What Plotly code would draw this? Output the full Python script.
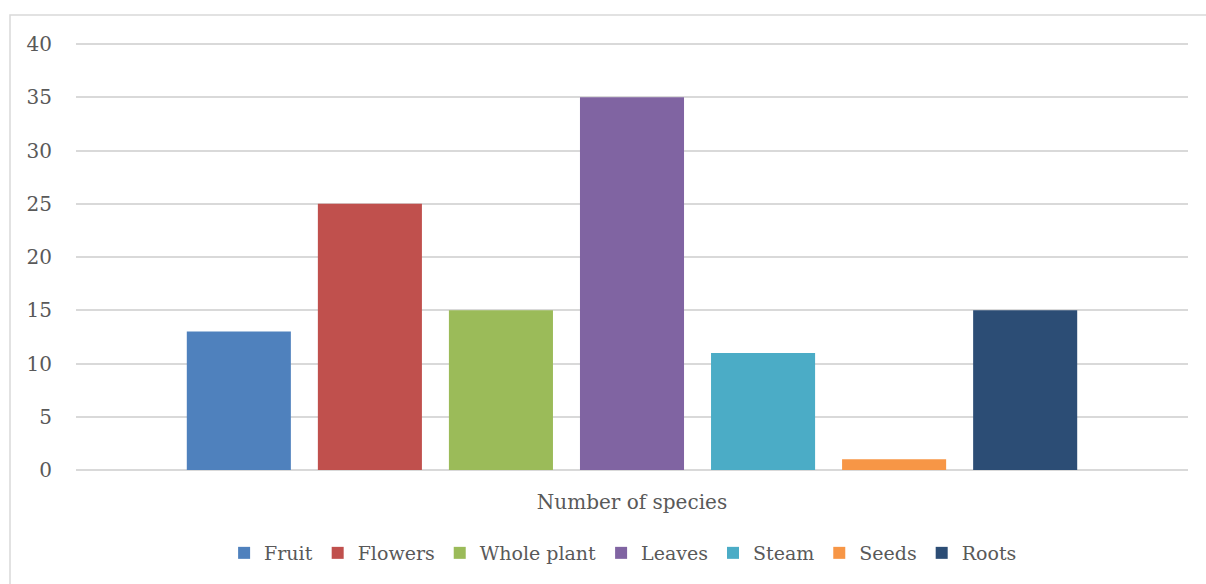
import plotly.graph_objects as go

category = ["Number of species"]
series_names = ["Fruit", "Flowers", "Whole plant", "Leaves", "Steam", "Seeds", "Roots"]
species_counts = [13, 25, 15, 35, 11, 1, 15]
series_colors = ["#4f81bd", "#c0504d", "#9bbb59", "#8064a2", "#4bacc6", "#f79646", "#2c4d75"]
y_ticks = [0, 5, 10, 15, 20, 25, 30, 35, 40]

W, H = 1206, 584
ML, MR, MT, MB = 76, 18, 42, 114
plot_w = W - ML - MR
plot_h = H - MT - MB

font_family = "DejaVu Serif, Liberation Serif, serif"
text_color = "#595959"
grid_color = "#d9d9d9"

fig = go.Figure()
for name, val, col in zip(series_names, species_counts, series_colors):
    fig.add_trace(go.Bar(x=category, y=[val], name=name, marker=dict(color=col, line=dict(width=0))))

# outer chart border
fig.add_shape(
    type="rect", xref="paper", yref="paper",
    x0=(10 - ML) / plot_w, x1=(W + 5 - ML) / plot_w,
    y0=-(H + 5 - MT - plot_h) / plot_h, y1=1 + (MT - 15) / plot_h,
    line=dict(color="#d9d9d9", width=1.5), fillcolor="rgba(0,0,0,0)", layer="below",
)

fig.update_layout(
    width=W, height=H,
    margin=dict(l=ML, r=MR, t=MT, b=MB),
    paper_bgcolor="white", plot_bgcolor="white",
    barmode="group", bargap=0.175, bargroupgap=0.206,
    font=dict(family=font_family, size=20, color=text_color),
    showlegend=True,
    legend=dict(
        orientation="h", x=0.492, xanchor="center", y=-(553 - MT - plot_h) / plot_h, yanchor="middle",
        font=dict(size=19, color=text_color), itemwidth=30, traceorder="normal",
    ),
    xaxis=dict(showgrid=False, showline=False, ticks="", ticklabelstandoff=18,
               tickfont=dict(size=20, color=text_color)),
    yaxis=dict(
        range=[0, 40.2], tickvals=y_ticks, showgrid=True, gridcolor=grid_color, gridwidth=1.5,
        zeroline=True, zerolinecolor=grid_color, zerolinewidth=1.5, showline=False,
        ticks="", ticklabelstandoff=23, tickfont=dict(size=20, color=text_color),
    ),
)

fig.write_html("out.html")
